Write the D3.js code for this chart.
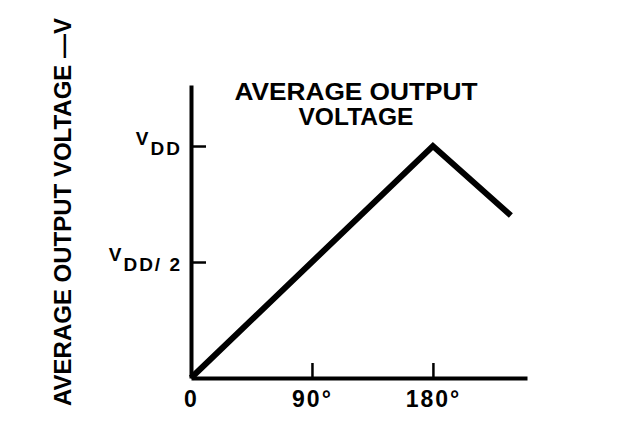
<!DOCTYPE html>
<html>
<head>
<meta charset="utf-8">
<script src="https://cdn.jsdelivr.net/npm/d3@7"></script>
<style>
  body { margin: 0; background: #fff; }
  text { font-family: "Liberation Sans", Arial, sans-serif; font-weight: bold; fill: #000; }
</style>
</head>
<body>
<svg id="chart" width="620" height="426"></svg>
<script>
// phase angle (deg) vs average output voltage (fraction of VDD)
const angles = [0, 180, 238];
const voltages = [0, 1, 0.70];

const xTicks = [0, 90, 180];
const xTickLabels = ['0', '90°', '180°'];
const yTicks = [0.5, 1];
const yTickLabels = [['V', 'DD/ 2'], ['V', 'DD']];

const titleLines = ['AVERAGE OUTPUT', 'VOLTAGE'];
const yTitle = 'AVERAGE OUTPUT VOLTAGE —V';

const svg = d3.select('#chart');

const x = d3.scaleLinear()
  .domain([0, 250])
  .range([191, 527]);

const y = d3.scaleLinear()
  .domain([0, 1.263])
  .range([378, 85]);

const xAxis = svg.append('g')
  .attr('class', 'xAxis')
  .attr('transform', `translate(0,${y(0)})`)
  .call(d3.axisBottom(x)
    .tickValues(xTicks)
    .tickSizeInner(-15)
    .tickSizeOuter(0)
    .tickPadding(9)
    .tickFormat((d, i) => xTickLabels[i]));

xAxis.select('.domain').attr('stroke-width', 4);
xAxis.selectAll('.tick line').attr('stroke-width', 2.5)
  .filter(d => d === 0).remove();
xAxis.selectAll('.tick text')
  .attr('font-size', 23)
  .attr('letter-spacing', 2)
  .attr('dy', '0.85em');

const yAxis = svg.append('g')
  .attr('class', 'yAxis')
  .attr('transform', `translate(${x(0)},0)`)
  .call(d3.axisLeft(y)
    .tickValues(yTicks)
    .tickSizeInner(-15)
    .tickSizeOuter(0)
    .tickPadding(9)
    .tickFormat(''));

yAxis.select('.domain').attr('stroke-width', 4);
yAxis.selectAll('.tick line').attr('stroke-width', 2.5);
yAxis.selectAll('.tick text')
  .attr('dy', null)
  .attr('letter-spacing', 2)
  .each(function (d, i) {
    const t = d3.select(this);
    t.append('tspan').attr('font-size', 19).attr('dy', -2).text(yTickLabels[i][0]);
    t.append('tspan').attr('font-size', 19).attr('dy', 10).text(yTickLabels[i][1]);
  });

const line = d3.line()
  .x((d, i) => x(angles[i]))
  .y(d => y(d));

svg.append('path')
  .datum(voltages)
  .attr('fill', 'none')
  .attr('stroke', '#000')
  .attr('stroke-width', 6)
  .attr('stroke-linejoin', 'miter')
  .attr('d', line);

const titleWidths = [243, 115];

svg.append('g')
  .attr('class', 'title')
  .selectAll('text')
  .data(titleLines)
  .join('text')
  .attr('x', 356)
  .attr('y', (d, i) => 100 + i * 25)
  .attr('text-anchor', 'middle')
  .attr('font-size', 24)
  .attr('textLength', (d, i) => titleWidths[i])
  .attr('lengthAdjust', 'spacingAndGlyphs')
  .text(d => d);

svg.append('text')
  .attr('class', 'yTitle')
  .attr('transform', 'translate(71,212) rotate(-90)')
  .attr('text-anchor', 'middle')
  .attr('font-size', 24)
  .text(yTitle);
</script>
</body>
</html>
